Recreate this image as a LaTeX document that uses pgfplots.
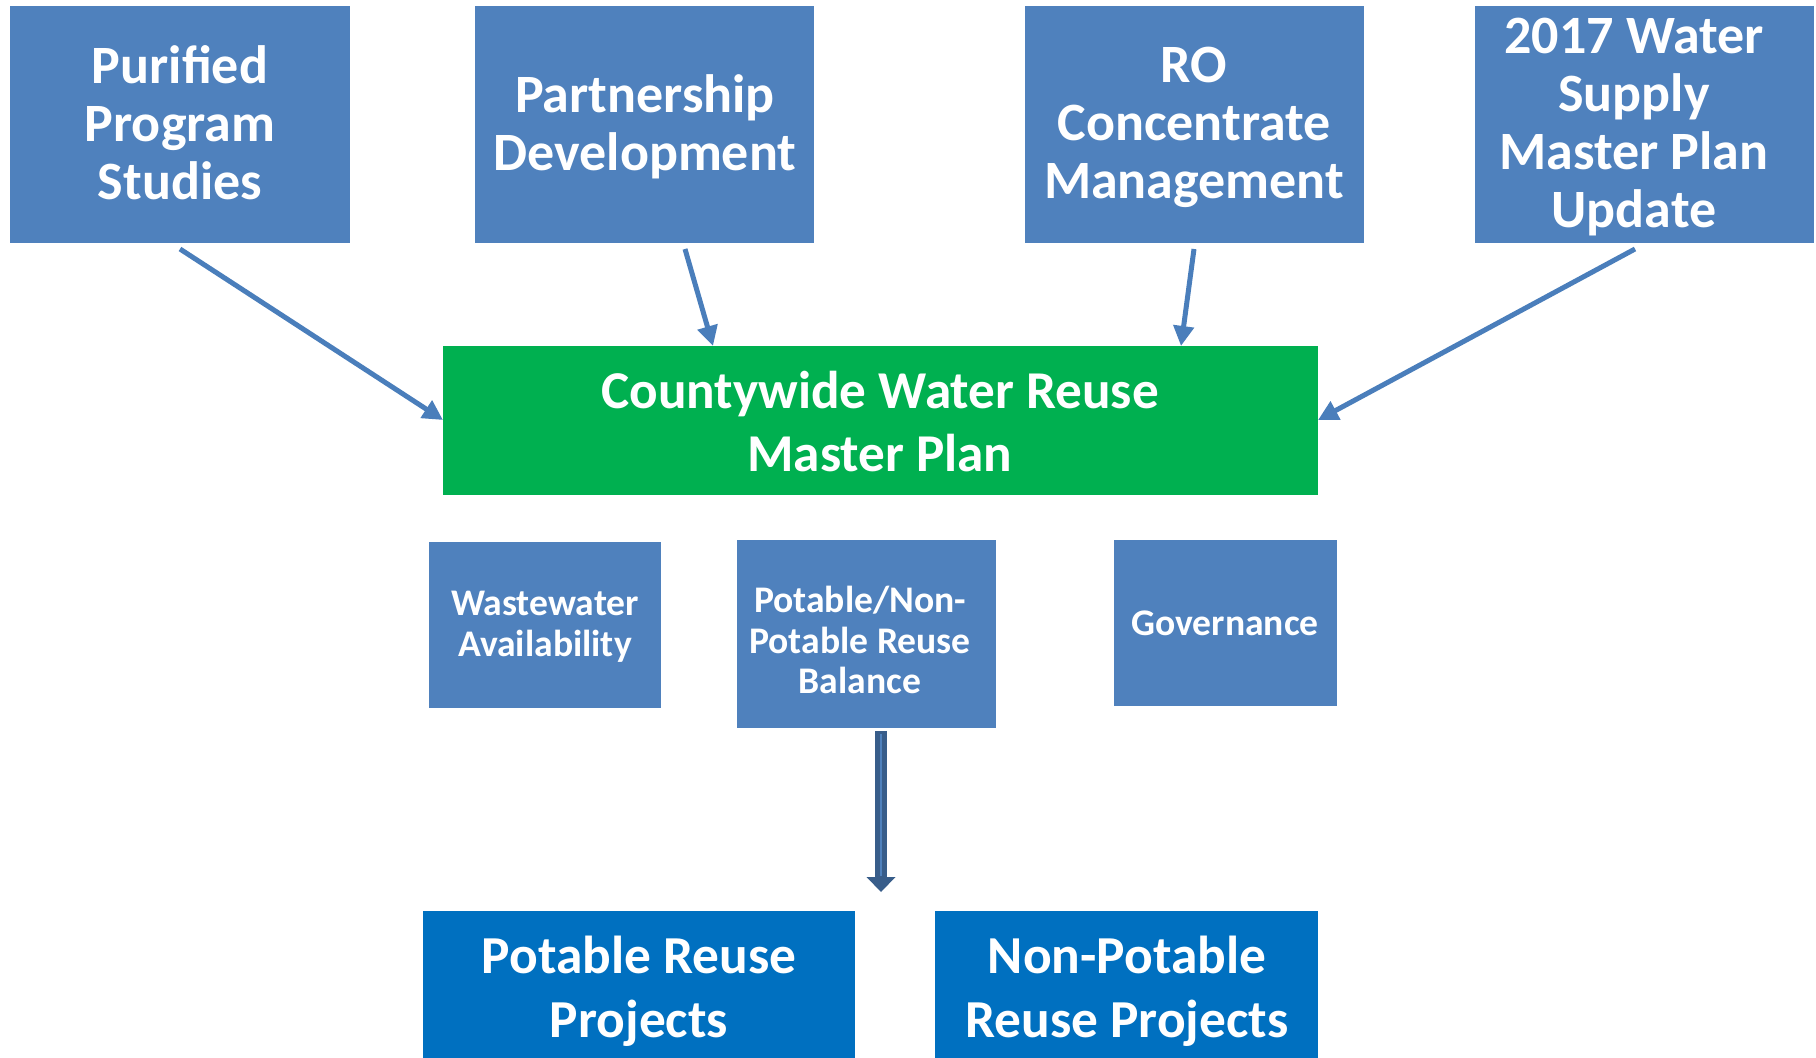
\documentclass[border=0pt]{standalone}
\usepackage{pgfplots}
\pgfplotsset{compat=1.18}
\usepackage{fontspec}
\setmainfont{Carlito}
\usetikzlibrary{arrows.meta}
\definecolor{boxblue}{HTML}{4F81BD}
\definecolor{grn}{HTML}{00B050}
\definecolor{bblue}{HTML}{0070C0}
\definecolor{arr}{HTML}{4A7EBB}
\definecolor{darr}{HTML}{385D8A}
\newcommand{\rect}[5]{\addplot[fill=#5, draw=none] coordinates {(#1,#2) (#3,#2) (#3,#4) (#1,#4)};}
\begin{document}
\begin{tikzpicture}
\begin{axis}[
  width=908pt, height=529pt, scale only axis,
  xmin=0, xmax=1816, ymin=0, ymax=1058, y dir=reverse,
  hide axis, clip=false]
\addplot[draw=none] coordinates {(0,0) (1816,1058)};
% top boxes
\rect{10}{6}{350}{243}{boxblue}
\rect{475}{6}{814}{243}{boxblue}
\rect{1025}{6}{1364}{243}{boxblue}
\rect{1475}{6}{1814}{243}{boxblue}
% green
\rect{443}{346}{1318}{495}{grn}
% middle
\rect{429}{542}{661}{708}{boxblue}
\rect{737}{540}{996}{728}{boxblue}
\rect{1114}{540}{1337}{706}{boxblue}
% bottom
\rect{423}{911}{855}{1058}{bblue}
\rect{935}{911}{1318}{1058}{bblue}
% arrows
\addplot[arr, line width=2.5pt, -{Triangle[length=10pt,width=10pt]}] coordinates {(180,249) (443,420)};
\addplot[arr, line width=2.5pt, -{Triangle[length=10pt,width=10pt]}] coordinates {(685,249) (713,346)};
\addplot[arr, line width=2.5pt, -{Triangle[length=10pt,width=10pt]}] coordinates {(1194,249) (1181,346)};
\addplot[arr, line width=2.5pt, -{Triangle[length=10pt,width=10pt]}] coordinates {(1635,249) (1318,420)};
% thick arrow
\addplot[darr, line width=6pt] coordinates {(881,731) (881,878)};
\addplot[boxblue, line width=1pt] coordinates {(881,734) (881,876)};
\addplot[fill=darr, draw=none] coordinates {(866.5,877) (895.5,877) (881,892)};
% texts
\tikzset{lbl/.style={text=white, align=center, font=\bfseries}}
\node[lbl, font=\bfseries\fontsize{27}{29}\selectfont] at (axis cs:180,123) {Purified\\Program\\Studies};
\node[lbl, font=\bfseries\fontsize{27}{29}\selectfont] at (axis cs:645,126.5) {Partnership\\Development};
\node[lbl, font=\bfseries\fontsize{27}{29}\selectfont] at (axis cs:1194,127.5) {RO\\Concentrate\\Management};
\node[lbl, font=\bfseries\fontsize{27}{29}\selectfont] at (axis cs:1634,127.5) {2017 Water\\Supply\\Master Plan\\Update};
\node[lbl, font=\bfseries\fontsize{26.6}{31.5}\selectfont] at (axis cs:880,422) {Countywide Water Reuse\\Master Plan};
\node[lbl, font=\bfseries\fontsize{18.8}{20.3}\selectfont] at (axis cs:545,627) {Wastewater\\Availability};
\node[lbl, font=\bfseries\fontsize{18.8}{20.3}\selectfont] at (axis cs:860,640) {Potable/Non-\\Potable Reuse\\Balance};
\node[lbl, font=\bfseries\fontsize{18.8}{20.3}\selectfont] at (axis cs:1225,623) {Governance};
\node[lbl, font=\bfseries\fontsize{26.7}{32}\selectfont] at (axis cs:639,991) {Potable Reuse\\Projects};
\node[lbl, font=\bfseries\fontsize{26.7}{32}\selectfont] at (axis cs:1127,991) {Non-Potable\\Reuse Projects};
\end{axis}
\end{tikzpicture}
\end{document}
